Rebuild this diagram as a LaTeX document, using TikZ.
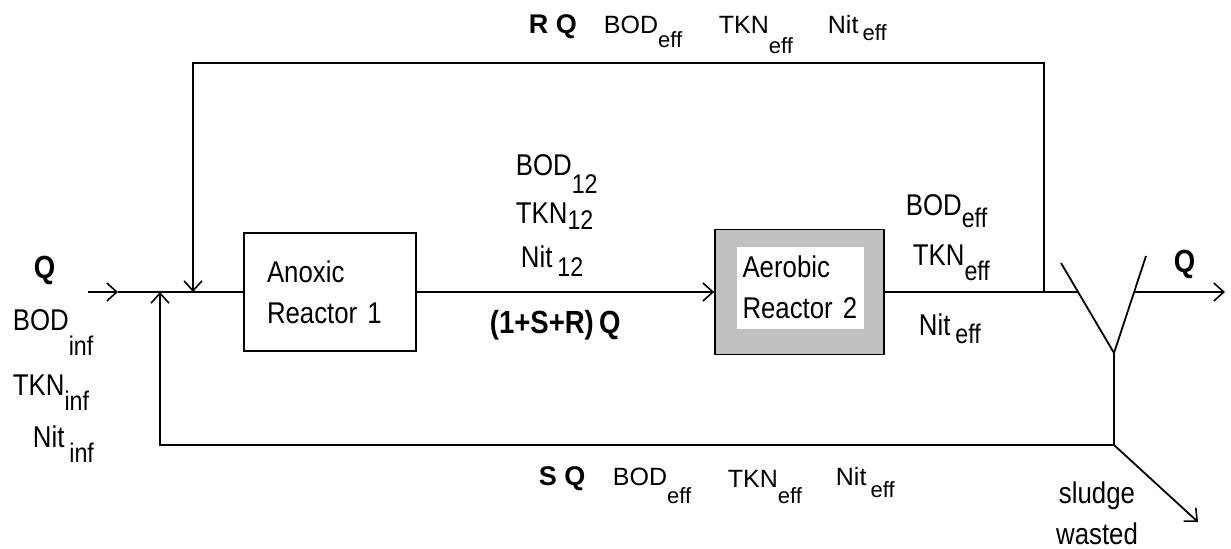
\documentclass[tikz,border=0pt]{standalone}
\usepackage{fontspec}
\setmainfont{Liberation Sans}
\newfontfamily\condfont[FakeStretch=0.86]{Liberation Sans}
\usetikzlibrary{positioning,arrows.meta}
\definecolor{aerogray}{RGB}{192,192,192}
\newcommand{\rowsub}[2]{\raisebox{-#1}{\fontsize{11}{12}\selectfont #2}}
\newcommand{\mainsub}[2]{\raisebox{-#1}{\fontsize{13.5}{14}\selectfont #2}}

\begin{document}
\begin{tikzpicture}[
  x=0.5pt,y=-0.5pt,line width=0.9pt,
  >={Straight Barb[length=5pt,width=9pt,line width=0.8pt]},
  every node/.style={font=\condfont\fontsize{15}{20.5}\selectfont},
  lbl/.style={inner sep=0pt,anchor=base west},
  rowlbl/.style={lbl,font=\fontsize{12.5}{14}\selectfont},
  recyclbl/.style={lbl,font=\bfseries\fontsize{13.5}{15}\selectfont},
  flowlbl/.style={lbl,font=\condfont\bfseries\fontsize{16}{18}\selectfont},
  reactor/.style={rectangle,draw=black,line width=0.9pt,align=left,
    minimum width=86pt,minimum height=59pt,text width=63pt,inner sep=0pt}
]
\useasboundingbox (0,0) rectangle (1231,548);

\node[reactor] (anox) at (330,292) {Anoxic\\Reactor 1};
\node[reactor,fill=aerogray,minimum width=84.5pt,minimum height=62.5pt] (aero) at (799.5,292) {};
\node[rectangle,fill=white,minimum width=63.5pt,minimum height=41pt,text width=58pt,
  align=left,inner sep=0pt] (aerotxt) at (800.5,287.5) {Aerobic\\Reactor 2};

\coordinate (qin) at (88,292);
\coordinate (qmid) at (118,292);
\coordinate (sjoin) at (160,292);
\coordinate (rjoin) at (193,292);
\coordinate (rtap) at (1044,292);
\coordinate (rtr) at (1044,63);
\coordinate (rtl) at (193,63);
\coordinate (setl) at (1061,263);
\coordinate (setr) at (1146,256);
\coordinate (setb) at (1114,353);
\coordinate (setin) at (1078,292);
\coordinate (setout) at (1134,292);
\coordinate (qfin) at (1225,292);
\coordinate (swj) at (1114,445);
\coordinate (sbl) at (160,445);
\coordinate (waste) at (1198,522);

\draw[->] (qin) -- (qmid);
\draw (qmid) -- (anox);
\draw[->] (anox) -- (aero);
\draw (aero) -- (setin);
\draw (setl) -- (setb) -- (setr);
\draw[->] (setout) -- (qfin);
\draw (setb) -- (swj);
\draw[->] (swj) -- (waste);
\draw[->] (swj) -- (sbl) -- (sjoin);
\draw[->] (rtap) -- (rtr) -- (rtl) -- (rjoin);

\node[recyclbl] (rq) at (528,33) {R Q};
\node[rowlbl] (rqbod) at (603,33) {BOD\rowsub{7pt}{eff}};
\node[rowlbl] (rqtkn) at (718,33) {TKN\rowsub{10pt}{eff}};
\node[rowlbl] (rqnit) at (827,33) {Nit\,\rowsub{3.5pt}{eff}};

\node[recyclbl] (sq) at (538,485) {S Q};
\node[rowlbl] (sqbod) at (612,485) {BOD\rowsub{9pt}{eff}};
\node[rowlbl] (sqtkn) at (727,487) {TKN\rowsub{8pt}{eff}};
\node[rowlbl] (sqnit) at (835,485) {Nit\,\rowsub{6pt}{eff}};

\node[lbl] (bod12) at (515,175) {BOD\mainsub{9pt}{12}};
\node[lbl] (tkn12) at (515,223) {TKN\mainsub{3pt}{12}};
\node[lbl] (nit12) at (520,267) {Nit\,\mainsub{4.5pt}{12}};
\node[flowlbl] (flow) at (489,333) {(1+S+R)\,Q};

\node[lbl] (effbod) at (905,215) {BOD\mainsub{6pt}{eff}};
\node[lbl] (efftkn) at (912,265) {TKN\mainsub{7.5pt}{eff}};
\node[lbl] (effnit) at (918,335) {Nit\,\mainsub{4pt}{eff}};

\node[flowlbl] (qinlbl) at (33,278) {Q};
\node[lbl] (bodinf) at (12,330) {BOD\mainsub{12.5pt}{inf}};
\node[lbl] (tkninf) at (12,395) {TKN\mainsub{7.5pt}{inf}};
\node[lbl] (nitinf) at (32,447) {Nit\,\mainsub{7.5pt}{inf}};

\node[flowlbl] (qoutlbl) at (1173,272) {Q};
\node[align=center,inner sep=0pt] (sludge) at (1097,513) {sludge\\wasted};
\end{tikzpicture}
\end{document}
